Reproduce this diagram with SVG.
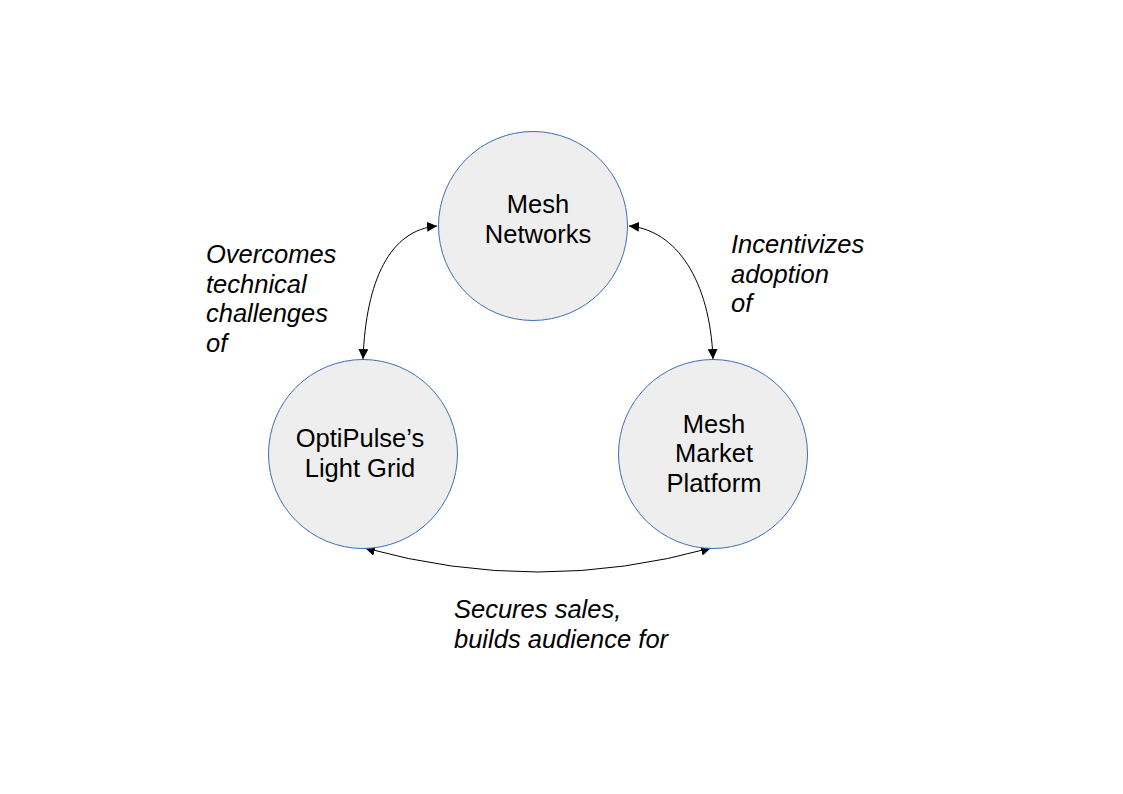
<svg xmlns="http://www.w3.org/2000/svg" width="1123" height="794" viewBox="0 0 1123 794">
<style>
.node{fill:#eeeeee;stroke:#3d6fb6;stroke-width:1}
.nt{font-family:"Liberation Sans",Arial,sans-serif;font-size:25.5px;fill:#000;text-anchor:middle}
.lb{font-family:"Liberation Sans",Arial,sans-serif;font-size:25.5px;font-style:italic;fill:#000}
.edge{fill:none;stroke:#000;stroke-width:1}
</style>
<defs>
<marker id="ah" viewBox="0 0 10 10" refX="10" refY="5" markerWidth="10" markerHeight="10" markerUnits="userSpaceOnUse" orient="auto-start-reverse">
<path d="M0,0 L10,5 L0,10 z" fill="#000"/>
</marker>
</defs>
<rect width="1123" height="794" fill="#fff"/>
<g id="connectors">
<path class="edge" d="M363,359 C366,280 390,230 437,226" marker-start="url(#ah)" marker-end="url(#ah)"/>
<path class="edge" d="M629,226 C676,230 710,280 713,359" marker-start="url(#ah)" marker-end="url(#ah)"/>
<path class="edge" d="M365,548 Q538,596 711,548" marker-start="url(#ah)" marker-end="url(#ah)"/>
</g>
<g id="mesh-networks">
<circle class="node" cx="533" cy="226" r="94.5"/>
<text class="nt" x="538" y="213">Mesh</text>
<text class="nt" x="538" y="243">Networks</text>
</g>
<g id="optipulse">
<circle class="node" cx="363" cy="454" r="94.5"/>
<text class="nt" x="360" y="447">OptiPulse’s</text>
<text class="nt" x="360" y="477">Light Grid</text>
</g>
<g id="mesh-market">
<circle class="node" cx="713" cy="454" r="94.5"/>
<text class="nt" x="714" y="433">Mesh</text>
<text class="nt" x="714" y="462">Market</text>
<text class="nt" x="714" y="492">Platform</text>
</g>
<g id="labels">
<text class="lb" x="206" y="263">Overcomes</text>
<text class="lb" x="206" y="293">technical</text>
<text class="lb" x="206" y="322">challenges</text>
<text class="lb" x="206" y="352">of</text>
<text class="lb" x="731" y="253">Incentivizes</text>
<text class="lb" x="731" y="283">adoption</text>
<text class="lb" x="731" y="312">of</text>
<text class="lb" x="454" y="618">Secures sales,</text>
<text class="lb" x="454" y="648">builds audience for</text>
</g>
</svg>
